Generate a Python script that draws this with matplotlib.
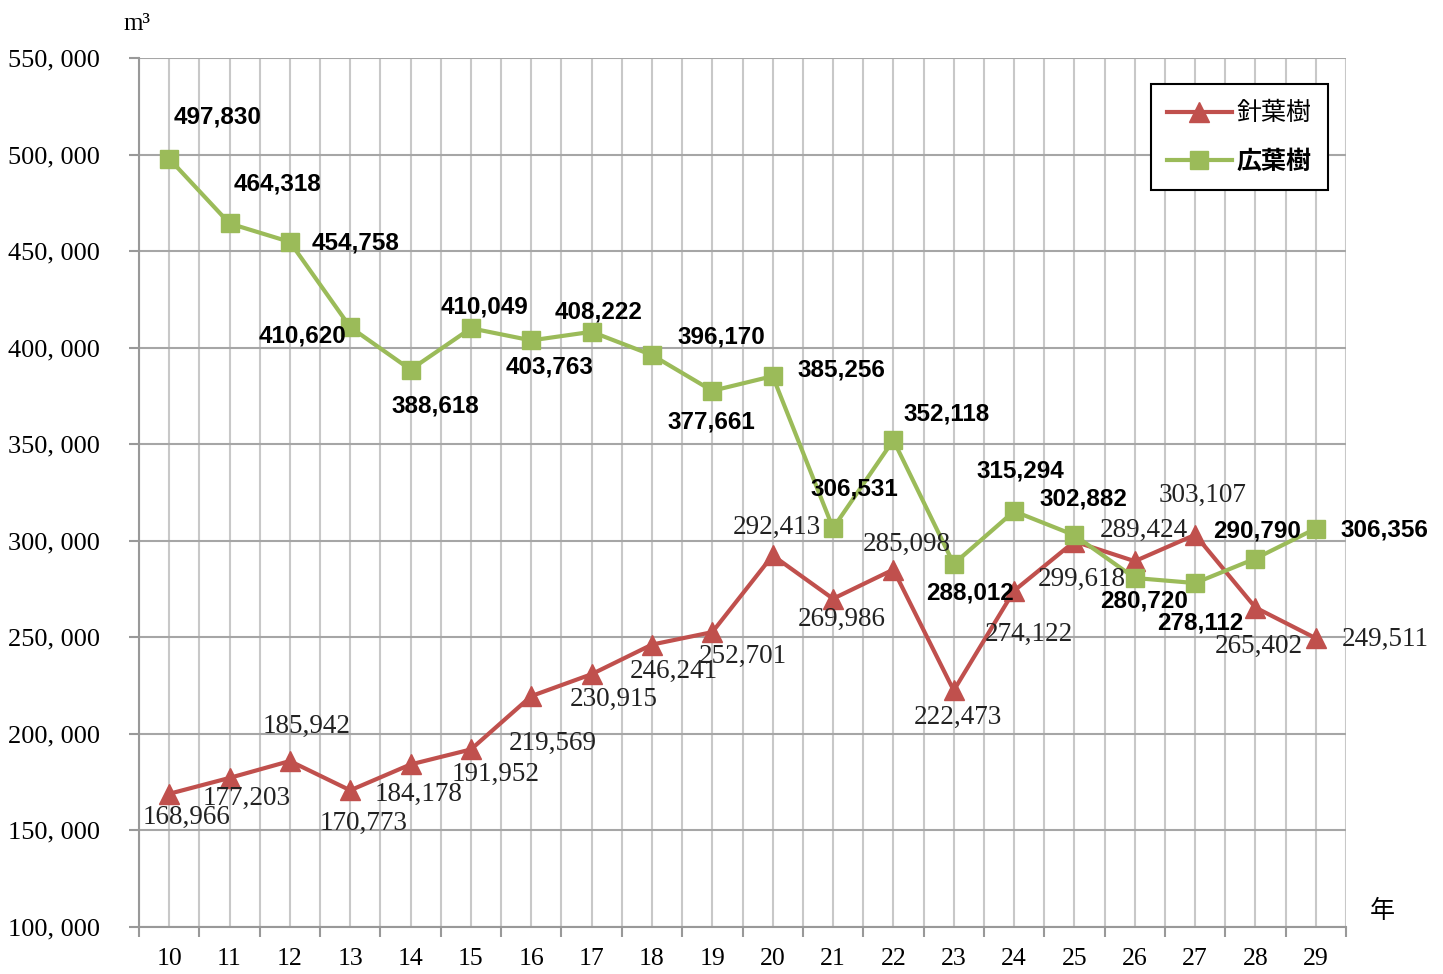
import matplotlib
matplotlib.use("Agg")
import matplotlib.pyplot as plt
from matplotlib.ticker import FixedLocator

# data (years: Heisei 10-29)
years = list(range(10, 30))
conifer = [168966, 177203, 185942, 170773, 184178, 191952, 219569, 230915, 246241, 252701,
           292413, 269986, 285098, 222473, 274122, 299618, 289424, 303107, 265402, 249511]
broadleaf = [497830, 464318, 454758, 410620, 388618, 410049, 403763, 408222, 396170, 377661,
             385256, 306531, 352118, 288012, 315294, 302882, 280720, 278112, 290790, 306356]

# label offsets in pixels (dx right, dy down) relative to the point
conifer_off = [(17, 24), (17, 20), (17, -35), (13, 33), (8, 30), (25, 25), (21, 47), (22, 25),
               (22, 27), (30, 24), (4, -28), (9, 21), (13, -25), (4, 27), (15, 44), (7, 38),
               (9, -31), (7, -39), (3, 39), (69, 1)]
broadleaf_off = [(48, -42), (48, -39), (66, 1), (-48, 9), (25, 36), (14, -21), (18, 27), (7, -20),
                 (69, -18), (-1, 31), (69, -6), (21, -39), (53, -26), (16, 29), (6, -40), (9, -36),
                 (9, 23), (5, 40), (2, -28), (69, 1)]

red = "#C0504D"
green = "#9BBB59"

fig = plt.figure(figsize=(14.43, 9.74), dpi=100)
ax = fig.add_axes([139 / 1443, 1 - 927 / 974, (1346 - 139) / 1443, (927 - 58) / 974])

ax.plot(years, conifer, color=red, lw=3, marker="^", ms=14, label="針葉樹", zorder=3)
ax.plot(years, broadleaf, color=green, lw=3, marker="s", ms=13, label="広葉樹", zorder=4)

for x, y, (dx, dy) in zip(years, conifer, conifer_off):
    ax.annotate(f"{y:,}", (x, y), xytext=(dx * 0.72, -dy * 0.72), textcoords="offset points",
                ha="center", va="center", fontsize=19.5, family="Liberation Serif", color="#222222",
                zorder=6)
for x, y, (dx, dy) in zip(years, broadleaf, broadleaf_off):
    ax.annotate(f"{y:,}", (x, y), xytext=(dx * 0.72, -dy * 0.72), textcoords="offset points",
                ha="center", va="center", fontsize=17.5, family="Liberation Sans", fontweight="bold",
                color="black", zorder=6)

ax.set_xlim(9.5, 29.5)
ax.set_ylim(100000, 550000)

yt = list(range(100000, 550001, 50000))
ax.set_yticks(yt)
ax.set_yticklabels([f"{v // 1000}, 000" for v in yt], family="Liberation Serif", fontsize=19)
ax.set_xticks(years)
ax.set_xticklabels([str(y) for y in years], family="Liberation Serif", fontsize=18.5)
ax.xaxis.set_minor_locator(FixedLocator([y - 0.5 for y in years] + [29.5]))
ax.tick_params(axis="x", which="major", length=0, pad=15)
ax.tick_params(axis="x", which="minor", length=7, width=1.5, color="#999999", direction="out")
ax.tick_params(axis="y", length=7, width=1.5, color="#999999", direction="out", pad=21)

ax.grid(axis="x", which="both", color="#C8C8C8", lw=1.5)
ax.grid(axis="y", which="major", color="#A6A6A6", lw=1.5)
ax.set_axisbelow(True)
for s in ["top", "right"]:
    ax.spines[s].set_visible(False)
ax.spines["left"].set_color("#999999")
ax.spines["bottom"].set_color("#999999")
ax.spines["left"].set_linewidth(1.5)
ax.spines["bottom"].set_linewidth(1.5)

fig.text(137 / 1443, 1 - 24 / 974, "m³", family="Liberation Serif", fontsize=18, ha="center", va="center")
fig.text(1382 / 1443, 1 - 911 / 974, "年", family="Noto Sans CJK JP", fontsize=18, ha="center", va="center")

leg = ax.legend(loc="upper right", bbox_to_anchor=(1328 / 1443, 1 - 84 / 974), bbox_transform=fig.transFigure,
                prop={"family": "Noto Sans CJK JP", "size": 18}, frameon=True, fancybox=False,
                edgecolor="black", framealpha=1, handlelength=2.6, borderpad=0.65, labelspacing=0.95,
                handletextpad=0.2, borderaxespad=0)
leg.get_frame().set_linewidth(1.5)
leg.get_texts()[1].set_fontweight("bold")

fig.savefig("out.png", dpi=100)
